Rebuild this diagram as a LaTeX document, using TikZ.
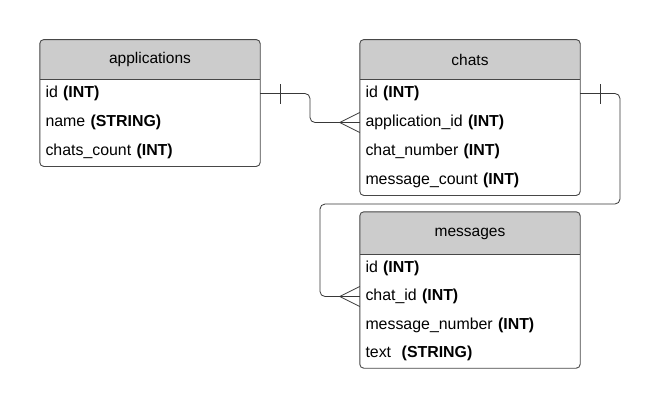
\documentclass[tikz,border=0pt]{standalone}
\usepackage{fontspec}
\setmainfont{Liberation Sans}
\begin{document}
\begin{tikzpicture}[x=1pt,y=-1pt,
  border/.style={draw=black!72,line width=0.9pt},
  headfill/.style={fill=black!20},
  tbl/.style={draw=none,inner sep=0pt,minimum width=220pt},
  title/.style={font=\fontsize{15.5}{18}\selectfont,inner sep=0pt},
  row/.style={font=\fontsize{15.9}{18}\selectfont,inner sep=0pt,text width=211pt,minimum height=28pt,align=left,minimum width=220pt,xshift=1pt},
  conn/.style={draw=black!78,line width=0.8pt,rounded corners=5pt},
  tickline/.style={draw=black!78,line width=0.8pt}
]
\useasboundingbox[fill=white] (0,0) rectangle (661,410);

% ---------- applications ----------
\node[tbl,minimum height=126.5pt] (app) at (150,103) {};
\fill[headfill] (40,79) [rounded corners=4pt] -- (app.north west) -- (app.north east) [sharp corners] -- (260,79) -- cycle;
\draw[border] (40,79) -- (260,79);
\draw[border,rounded corners=4pt] (app.north west) rectangle (app.south east);
\node[title] (apptitle) at (150,59.5) {applications};
\node[row] (a1) at (150,93.5) {id \textbf{(INT)}};
\node[row] (a2) at (150,122.5) {name \textbf{(STRING)}};
\node[row] (a3) at (150,151.5) {chats\_count \textbf{(INT)}};

% ---------- chats ----------
\node[tbl,minimum height=155.5pt] (chats) at (470,117.5) {};
\fill[headfill] (360,79) [rounded corners=4pt] -- (chats.north west) -- (chats.north east) [sharp corners] -- (580,79) -- cycle;
\draw[border] (360,79) -- (580,79);
\draw[border,rounded corners=4pt] (chats.north west) rectangle (chats.south east);
\node[title] (chatstitle) at (470,59.5) {chats};
\node[row] (c1) at (470,93.5) {id \textbf{(INT)}};
\node[row] (c2) at (470,122.5) {application\_id \textbf{(INT)}};
\node[row] (c3) at (470,151.5) {chat\_number \textbf{(INT)}};
\node[row] (c4) at (470,180.5) {message\_count \textbf{(INT)}};

% ---------- messages ----------
\node[tbl,minimum height=156pt] (msg) at (470,290) {};
\fill[headfill] (360,254) [rounded corners=4pt] -- (msg.north west) -- (msg.north east) [sharp corners] -- (580,254) -- cycle;
\draw[border] (360,254) -- (580,254);
\draw[border,rounded corners=4pt] (msg.north west) rectangle (msg.south east);
\node[title] (msgtitle) at (470,233.5) {messages};
\node[row] (m1) at (470,268) {id \textbf{(INT)}};
\node[row] (m2) at (470,296.5) {chat\_id \textbf{(INT)}};
\node[row] (m3) at (470,325) {message\_number \textbf{(INT)}};
\node[row] (m4) at (470,353.5) {text\ \ \textbf{(STRING)}};

% ---------- connectors ----------
% applications.id -> chats.application_id
\draw[conn] (app.east |- a1.east) -- (310,93.5) -- (310,122.5) -- (chats.west |- c2.west);
\draw[tickline] ([xshift=20pt,yshift=-10pt]app.east |- a1.east) -- ([xshift=20pt,yshift=10pt]app.east |- a1.east);
\draw[tickline] ([xshift=-20pt]chats.west |- c2.west) -- ([yshift=-10pt]chats.west |- c2.west);
\draw[tickline] ([xshift=-20pt]chats.west |- c2.west) -- ([yshift=10pt]chats.west |- c2.west);

% chats.id -> messages.chat_id
\draw[conn] (chats.east |- c1.east) -- (620,93.5) -- (620,204) -- (320,204) -- (320,296.5) -- (msg.west |- m2.west);
\draw[tickline] ([xshift=20pt,yshift=-10pt]chats.east |- c1.east) -- ([xshift=20pt,yshift=10pt]chats.east |- c1.east);
\draw[tickline] ([xshift=-20pt]msg.west |- m2.west) -- ([yshift=-10pt]msg.west |- m2.west);
\draw[tickline] ([xshift=-20pt]msg.west |- m2.west) -- ([yshift=10pt]msg.west |- m2.west);
\end{tikzpicture}
\end{document}
